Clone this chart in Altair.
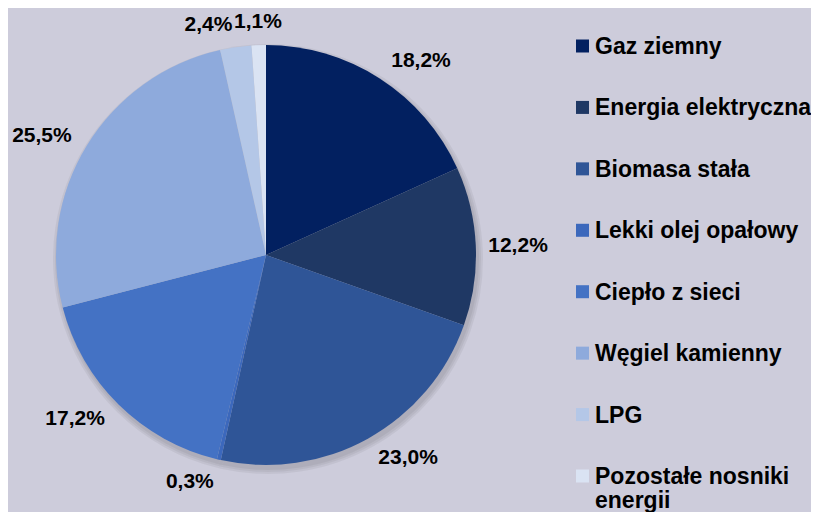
import altair as alt
import pandas as pd

categories = ["Gaz ziemny", "Energia elektryczna", "Biomasa stała", "Lekki olej opałowy",
              "Ciepło z sieci", "Węgiel kamienny", "LPG", "Pozostałe nosniki energii"]
values = [18.2, 12.2, 23.0, 0.3, 17.2, 25.5, 2.4, 1.1]
colors = ["#022060", "#1F3864", "#2F5597", "#3C68BC", "#4472C4", "#8EAADC", "#B4C7E7", "#DAE3F3"]
legend_text = ["Gaz ziemny", "Energia elektryczna", "Biomasa stała", "Lekki olej opałowy",
               "Ciepło z sieci", "Węgiel kamienny", "LPG", "Pozostałe nosniki\nenergii"]

df = pd.DataFrame({
    "cat": categories,
    "val": values,
    "idx": list(range(len(categories))),
    "lab": [f"{v:.1f}%".replace(".", ",") for v in values],
    "leg": legend_text,
})

CX, CY, R = 258, 247, 210
R0 = 222
FONT = "Liberation Sans"

color = alt.Color("cat:N", scale=alt.Scale(domain=categories, range=colors), legend=None)
theta = alt.Theta("val:Q", stack=True)
order = alt.Order("idx:Q")

base = alt.Chart(df)

shadows = [
    base.mark_arc(outerRadius=R + k, color="#000000", opacity=0.05, strokeWidth=0).encode(
        theta=theta, order=order, x=alt.value(CX + 2), y=alt.value(CY + 4))
    for k in (1, 3, 5)
]

pie = base.mark_arc(outerRadius=R, strokeWidth=0).encode(
    theta=theta, color=color, order=order, x=alt.value(CX), y=alt.value(CY))

lab_base = base.transform_joinaggregate(total="sum(val)").transform_window(
    cum="sum(val)", sort=[alt.SortField("idx")], frame=[None, 0]
).transform_calculate(
    mid="(datum.cum - datum.val / 2) / datum.total * 2 * PI",
).transform_calculate(
    deg="datum.mid * 180 / PI",
    lr=f"{R0} + 11 * abs(cos(datum.mid))",
)


def label_layer(cond, align):
    return lab_base.transform_filter(cond).mark_text(
        font=FONT, fontSize=21, fontWeight="bold", color="#000000",
        align=align, baseline="middle").encode(
        theta=alt.Theta("mid:Q", scale=None, stack=False),
        radius=alt.Radius("lr:Q", scale=None),
        text="lab:N", x=alt.value(CX), y=alt.value(CY))


labels = [
    label_layer("datum.deg < 180", "left"),
    label_layer("datum.deg >= 180 && datum.deg < 355", "right"),
    label_layer("datum.deg >= 355", "center"),
]

yscale = alt.Scale(type="point", domain=categories, range=[38, 468], padding=0)

leg_sym = base.mark_square(size=169, opacity=1).encode(
    x=alt.value(574.5),
    y=alt.Y("cat:N", scale=yscale, axis=None),
    color=color)

leg_txt = base.mark_text(font=FONT, fontSize=23, fontWeight="bold", color="#000000",
                         align="left", baseline="alphabetic", dy=8, lineBreak="\n",
                         lineHeight=24).encode(
    x=alt.value(587),
    y=alt.Y("cat:N", scale=yscale, axis=None),
    text="leg:N")

chart = alt.layer(*shadows, pie, *labels, leg_sym, leg_txt).properties(
    width=803, height=504, background="#CDCCDB", padding=0,
    autosize=alt.AutoSizeParams(type="none"),
).configure_view(stroke=None)

chart.save("out.html", embed_options={"renderer": "svg", "actions": False})
